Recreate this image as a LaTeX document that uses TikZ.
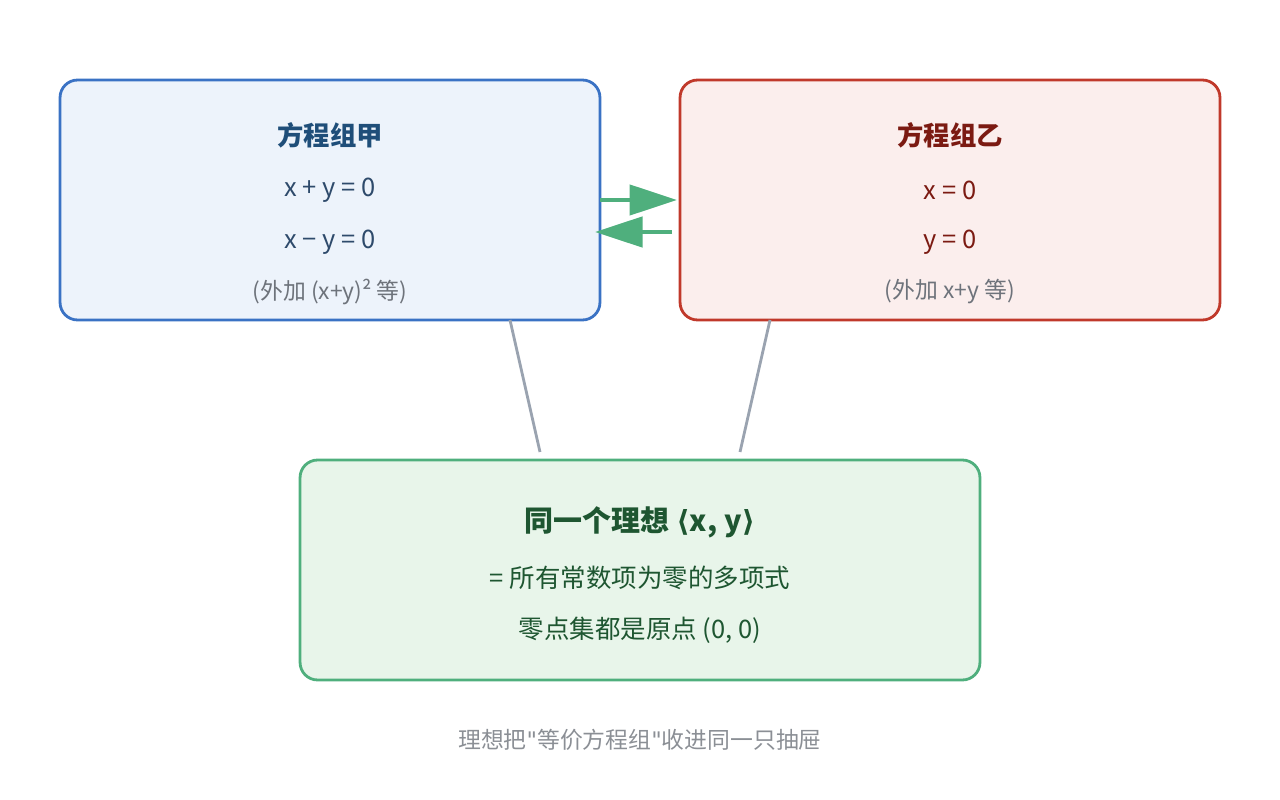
\documentclass[tikz,border=0pt]{standalone}
\usepackage{fontspec}
\setmainfont{Noto Sans CJK SC}
\newfontfamily\symfont{DejaVu Sans}
\usetikzlibrary{arrows.meta}
\definecolor{bluebd}{HTML}{3A72C4}
\definecolor{bluebg}{HTML}{EDF3FB}
\definecolor{bluetx}{HTML}{2E4A6B}
\definecolor{bluetl}{HTML}{1F4E79}
\definecolor{redbd}{HTML}{C0392B}
\definecolor{redbg}{HTML}{FBEEED}
\definecolor{redtx}{HTML}{7B1A12}
\definecolor{greenbd}{HTML}{4FAF7D}
\definecolor{greenbg}{HTML}{E8F5EA}
\definecolor{greentx}{HTML}{1E5631}
\definecolor{linkgray}{HTML}{9AA3B0}
\definecolor{notegray}{HTML}{6E737B}
\tikzset{
  box/.style={draw, rounded corners=0.35cm, line width=1.6pt, inner sep=0pt},
  ttl/.style={font=\fontsize{15}{15}\selectfont\bfseries},
  txt/.style={font=\fontsize{14.5}{14.5}\selectfont},
  sub/.style={font=\fontsize{13}{13}\selectfont, text=notegray},
  flow/.style={greenbd, line width=2.6pt, -{Triangle[length=0.95cm,width=0.6cm]}},
  link/.style={linkgray, line width=1.6pt}
}
\begin{document}
\begin{tikzpicture}[x=0.02cm,y=-0.02cm]
  \useasboundingbox (0,0) rectangle (1280,800);
  % boxes
  \node (A) [box, draw=bluebd, fill=bluebg, minimum width=10.8cm, minimum height=4.8cm] at (330,200) {};
  \node (B) [box, draw=redbd, fill=redbg, minimum width=10.8cm, minimum height=4.8cm] at (950,200) {};
  \node (C) [box, draw=greenbd, fill=greenbg, minimum width=13.6cm, minimum height=4.4cm] at (640,570) {};
  % texts
  \node (A1) [ttl, text=bluetl] at (330,135) {方程组甲};
  \node (A2) [txt, text=bluetx] at (330,190) {x + y = 0};
  \node (A3) [txt, text=bluetx] at (330,242) {x − y = 0};
  \node (A4) [sub] at (330,292) {(外加 (x+y)² 等)};
  \node (B1) [ttl, text=redtx] at (950,135) {方程组乙};
  \node (B2) [txt, text=redtx] at (950,190) {x = 0};
  \node (B3) [txt, text=redtx] at (950,242) {y = 0};
  \node (B4) [sub] at (950,292) {(外加 x+y 等)};
  \node (C1) [font=\fontsize{16.5}{16.5}\selectfont\bfseries, text=greentx] at (640,522) {同一个理想 {\symfont\bfseries ⟨}x, y{\symfont\bfseries ⟩}};
  \node (C2) [txt, text=greentx] at (640,578) {= 所有常数项为零的多项式};
  \node (C3) [txt, text=greentx] at (640,630) {零点集都是原点 (0, 0)};
  \node (N) [sub, text=notegray!80] at (640,740) {理想把{\symfont\symbol{34}}等价方程组{\symfont\symbol{34}}收进同一只抽屉};
  % arrows
  \coordinate (ar1) at (600,200);
  \coordinate (ar2) at (677,200);
  \coordinate (al1) at (672,232);
  \coordinate (al2) at (595,232);
  \draw[flow] (ar1) -- (ar2);
  \draw[flow] (al1) -- (al2);
  % links
  \coordinate (la) at (510,320);
  \coordinate (lc) at (540,452);
  \coordinate (lb) at (770,320);
  \coordinate (ld) at (740,452);
  \draw[link] (la) -- (lc);
  \draw[link] (lb) -- (ld);
\end{tikzpicture}
\end{document}
